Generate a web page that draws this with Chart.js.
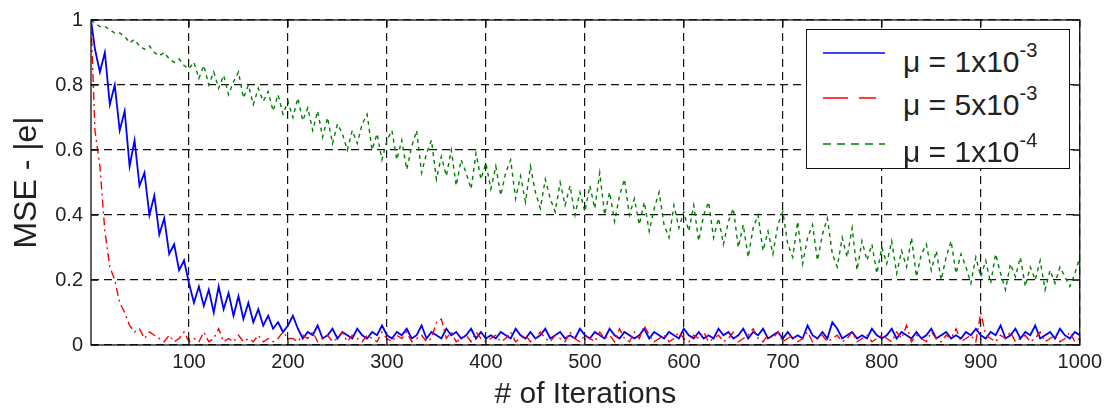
<!DOCTYPE html>
<html>
<head>
<meta charset="utf-8">
<script src="https://cdn.jsdelivr.net/npm/chart.js@4.4.1/dist/chart.umd.min.js"></script>
<style>
html,body{margin:0;padding:0;background:#fff;}
#wrap{position:relative;width:1107px;height:411px;background:#fff;}
#legend{position:absolute;left:806px;top:29px;width:264px;height:140px;box-sizing:border-box;border:1.3px solid #111;background:#fff;font-family:"Liberation Sans",Arial,sans-serif;color:#222;}
.lt{position:absolute;left:96px;font-size:30px;line-height:30px;white-space:nowrap;}
.lt sup{font-size:20px;vertical-align:baseline;position:relative;top:-15px;}
.ls{position:absolute;left:16px;}
</style>
</head>
<body>
<div id="wrap">
<canvas id="c" width="1107" height="411"></canvas>
<div id="legend">
  <svg class="ls" style="top:18px" width="62" height="10"><line x1="0" y1="5" x2="62" y2="5" stroke="#0000ff" stroke-width="1.5"/></svg>
  <div class="lt" style="top:17px">μ = 1x10<sup>-3</sup></div>
  <svg class="ls" style="top:63px" width="62" height="10"><line x1="0" y1="5" x2="62" y2="5" stroke="#ff0000" stroke-width="1.3" stroke-dasharray="25,11,17,20"/></svg>
  <div class="lt" style="top:60px">μ = 5x10<sup>-3</sup></div>
  <svg class="ls" style="top:109px" width="62" height="10"><line x1="0" y1="5" x2="62" y2="5" stroke="#008000" stroke-width="1.3" stroke-dasharray="8,6"/></svg>
  <div class="lt" style="top:107px">μ = 1x10<sup>-4</sup></div>
</div>
</div>
<script>
// ---- data ----
const iterations = [
  1,5,10,15,20,25,30,35,40,45,50,55,60,65,70,75,80,85,90,95,100,
  105,110,115,120,125,130,135,140,145,150,155,160,165,170,175,180,185,190,195,200,
  205,210,215,220,225,230,235,240,245,250,255,260,265,270,275,280,285,290,295,300,
  305,310,315,320,325,330,335,340,345,350,355,360,365,370,375,380,385,390,395,400,
  405,410,415,420,425,430,435,440,445,450,455,460,465,470,475,480,485,490,495,500,
  505,510,515,520,525,530,535,540,545,550,555,560,565,570,575,580,585,590,595,600,
  605,610,615,620,625,630,635,640,645,650,655,660,665,670,675,680,685,690,695,700,
  705,710,715,720,725,730,735,740,745,750,755,760,765,770,775,780,785,790,795,800,
  805,810,815,820,825,830,835,840,845,850,855,860,865,870,875,880,885,890,895,900,
  905,910,915,920,925,930,935,940,945,950,955,960,965,970,975,980,985,990,995,1000
];
const blueValues = [
  1.00,0.91,0.84,0.90,0.74,0.80,0.66,0.72,0.55,0.63,0.49,0.53,0.40,0.46,0.34,0.39,0.28,0.31,0.23,0.26,0.19,
  0.13,0.18,0.12,0.17,0.10,0.18,0.11,0.16,0.09,0.15,0.08,0.13,0.07,0.11,0.06,0.09,0.05,0.07,0.04,0.06,
  0.09,0.05,0.02,0.04,0.03,0.06,0.02,0.03,0.05,0.02,0.04,0.03,0.02,0.05,0.03,0.02,0.04,0.03,0.06,0.03,
  0.02,0.04,0.03,0.05,0.02,0.03,0.06,0.02,0.04,0.03,0.02,0.05,0.03,0.04,0.02,0.03,0.05,0.02,0.04,0.02,
  0.03,0.02,0.04,0.03,0.02,0.05,0.03,0.02,0.04,0.02,0.03,0.05,0.02,0.03,0.04,0.02,0.03,0.02,0.05,0.03,
  0.02,0.04,0.03,0.02,0.05,0.03,0.02,0.04,0.03,0.02,0.03,0.05,0.02,0.04,0.03,0.02,0.04,0.03,0.02,0.05,
  0.03,0.02,0.04,0.02,0.03,0.02,0.05,0.03,0.04,0.02,0.03,0.05,0.02,0.04,0.03,0.05,0.02,0.03,0.04,0.02,
  0.04,0.02,0.03,0.02,0.06,0.03,0.02,0.04,0.02,0.07,0.05,0.02,0.03,0.04,0.02,0.03,0.02,0.05,0.03,0.02,
  0.03,0.05,0.02,0.04,0.03,0.02,0.04,0.02,0.03,0.05,0.02,0.03,0.04,0.02,0.03,0.02,0.04,0.03,0.05,0.03,
  0.02,0.04,0.03,0.06,0.02,0.03,0.05,0.02,0.04,0.03,0.06,0.02,0.03,0.04,0.02,0.05,0.03,0.02,0.04,0.03
];
const redValues = [
  1.00,0.66,0.55,0.35,0.24,0.20,0.13,0.10,0.06,0.04,0.05,0.02,0.04,0.03,0.02,0.01,0.03,0.01,0.02,0.04,0.01,
  0.02,0.01,0.04,0.01,0.02,0.05,0.01,0.02,0.01,0.03,0.01,0.02,0.01,0.03,0.01,0.02,0.01,0.02,0.04,0.02,
  0.02,0.01,0.03,0.02,0.04,0.01,0.02,0.03,0.01,0.02,0.04,0.01,0.03,0.02,0.01,0.03,0.02,0.01,0.04,0.02,
  0.01,0.03,0.02,0.04,0.01,0.02,0.03,0.01,0.02,0.07,0.08,0.02,0.04,0.01,0.02,0.03,0.01,0.04,0.02,0.01,
  0.02,0.03,0.01,0.02,0.04,0.01,0.02,0.03,0.01,0.02,0.04,0.02,0.01,0.03,0.02,0.01,0.04,0.02,0.01,0.03,
  0.02,0.01,0.04,0.02,0.03,0.01,0.05,0.02,0.01,0.04,0.02,0.06,0.03,0.01,0.02,0.03,0.01,0.02,0.04,0.02,
  0.01,0.03,0.02,0.04,0.01,0.02,0.03,0.01,0.02,0.04,0.01,0.02,0.03,0.05,0.02,0.01,0.03,0.02,0.04,0.01,
  0.02,0.03,0.01,0.02,0.04,0.01,0.02,0.03,0.01,0.02,0.03,0.01,0.02,0.04,0.01,0.02,0.03,0.01,0.02,0.03,
  0.02,0.01,0.04,0.02,0.06,0.01,0.03,0.02,0.01,0.04,0.02,0.01,0.03,0.02,0.05,0.01,0.02,0.03,0.01,0.10,
  0.03,0.02,0.01,0.03,0.02,0.04,0.01,0.02,0.03,0.01,0.02,0.04,0.01,0.02,0.03,0.01,0.02,0.04,0.01,0.02
];
const greenValues = [
  1.00,0.99,0.98,0.98,0.97,0.96,0.96,0.95,0.93,0.94,0.92,0.91,0.92,0.90,0.89,0.90,0.88,0.87,0.88,0.86,0.85,
  0.87,0.82,0.86,0.80,0.84,0.79,0.83,0.77,0.81,0.84,0.76,0.80,0.74,0.79,0.75,0.78,0.72,0.77,0.71,0.75,
  0.70,0.76,0.69,0.73,0.66,0.72,0.64,0.70,0.62,0.68,0.65,0.60,0.66,0.62,0.68,0.71,0.60,0.65,0.57,0.63,
  0.66,0.57,0.63,0.54,0.61,0.66,0.53,0.59,0.63,0.51,0.58,0.52,0.60,0.49,0.57,0.53,0.48,0.59,0.51,0.56,
  0.48,0.55,0.46,0.53,0.57,0.45,0.52,0.44,0.55,0.47,0.42,0.51,0.45,0.41,0.50,0.43,0.49,0.40,0.47,0.41,
  0.49,0.42,0.53,0.40,0.47,0.38,0.46,0.51,0.40,0.45,0.37,0.44,0.35,0.42,0.47,0.37,0.33,0.43,0.36,0.41,
  0.35,0.43,0.32,0.40,0.44,0.33,0.39,0.31,0.38,0.42,0.30,0.37,0.27,0.36,0.40,0.29,0.35,0.28,0.37,0.41,
  0.31,0.27,0.38,0.25,0.33,0.37,0.26,0.34,0.39,0.28,0.24,0.33,0.27,0.36,0.23,0.32,0.26,0.31,0.22,0.30,
  0.25,0.32,0.22,0.29,0.24,0.33,0.21,0.28,0.31,0.23,0.29,0.20,0.27,0.32,0.22,0.28,0.24,0.19,0.27,0.21,
  0.26,0.19,0.28,0.22,0.17,0.25,0.21,0.27,0.18,0.24,0.20,0.26,0.17,0.23,0.19,0.24,0.21,0.18,0.22,0.27
];
const seriesNames = ['μ = 1x10-3', 'μ = 5x10-3', 'μ = 1x10-4'];
const xTickValues = [100,200,300,400,500,600,700,800,900,1000];
const yTickValues = [0,0.2,0.4,0.6,0.8,1];
const yTickLabels = ['0','0.2','0.4','0.6','0.8','1'];

// ---- chart ----
const FONT = '"Liberation Sans", Arial, sans-serif';
const toPoints = vals => iterations.map((x, i) => ({x: x, y: vals[i]}));

const frame = {
  id: 'frame',
  afterDraw(chart) {
    const {ctx, chartArea: {left, right, top, bottom}, scales: {x, y}} = chart;
    ctx.save();
    ctx.strokeStyle = '#111';
    ctx.lineWidth = 1.3;
    ctx.setLineDash([]);
    ctx.strokeRect(left, top, right - left, bottom - top);
    const t = 7;
    ctx.beginPath();
    xTickValues.forEach(v => {
      const px = x.getPixelForValue(v);
      ctx.moveTo(px, bottom); ctx.lineTo(px, bottom - t);
      ctx.moveTo(px, top); ctx.lineTo(px, top + t);
    });
    yTickValues.forEach(v => {
      const py = y.getPixelForValue(v);
      ctx.moveTo(left, py); ctx.lineTo(left + t, py);
      ctx.moveTo(right, py); ctx.lineTo(right - t, py);
    });
    ctx.stroke();
    ctx.restore();
  }
};

new Chart(document.getElementById('c'), {
  type: 'line',
  data: {
    datasets: [
      {label: seriesNames[0], data: toPoints(blueValues), borderColor: '#0000ff', borderWidth: 1.8, pointRadius: 0, tension: 0, order: 2},
      {label: seriesNames[1], data: toPoints(redValues), borderColor: '#ff0000', borderWidth: 1.4, borderDash: [8,4,2,4], pointRadius: 0, tension: 0, order: 1},
      {label: seriesNames[2], data: toPoints(greenValues), borderColor: '#008000', borderWidth: 1.4, borderDash: [4,4], pointRadius: 0, tension: 0, order: 0}
    ]
  },
  options: {
    responsive: false,
    animation: false,
    devicePixelRatio: 1,
    layout: {padding: {top: 17, right: 25, bottom: 0, left: 0}},
    plugins: {legend: {display: false}, tooltip: {enabled: false}},
    scales: {
      x: {
        type: 'linear', min: 1, max: 1000,
        afterBuildTicks: s => { s.ticks = xTickValues.map(v => ({value: v})); },
        afterFit: s => { s.height = 66; },
        grid: {color: '#111', lineWidth: 1.2, drawTicks: false},
        border: {display: false, dash: [8,5]},
        ticks: {color: '#222', font: {family: FONT, size: 20}, padding: 5, maxRotation: 0, autoSkip: false,
                callback: v => String(v)},
        title: {display: true, text: '# of Iterations', color: '#222',
                font: {family: FONT, size: 30, lineHeight: 1}, padding: {top: 0, bottom: 1}}
      },
      y: {
        type: 'linear', min: 0, max: 1,
        afterBuildTicks: s => { s.ticks = yTickValues.map(v => ({value: v})); },
        afterFit: s => { s.width = 91; },
        grid: {color: '#111', lineWidth: 1.2, drawTicks: false},
        border: {display: false, dash: [8,5]},
        ticks: {color: '#222', font: {family: FONT, size: 20}, padding: 8,
                callback: v => yTickLabels[yTickValues.indexOf(v)]},
        title: {display: true, text: 'MSE - |e|', color: '#222',
                font: {family: FONT, size: 32, lineHeight: 1}, padding: {top: 11, bottom: 0}}
      }
    }
  },
  plugins: [frame]
});
</script>
</body>
</html>
